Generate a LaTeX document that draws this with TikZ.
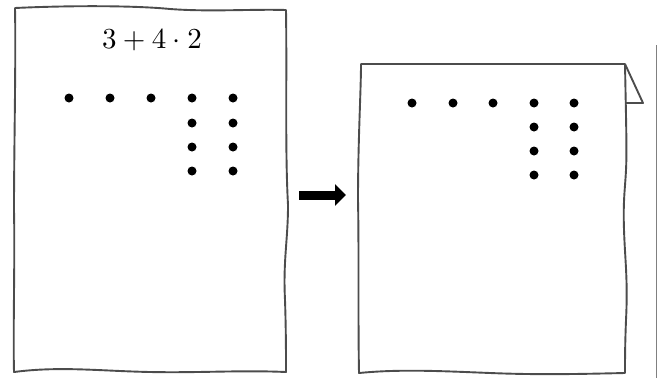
\documentclass[tikz,border=0pt]{standalone}
\usetikzlibrary{arrows.meta}
\begin{document}
\begin{tikzpicture}[x=1pt,y=-1pt,
  paper/.style={draw=black!70,line width=1.9pt,line join=round},
  dot/.style={circle,fill=black,inner sep=0pt,minimum size=9pt},
  rule/.style={draw=black!50,line width=0.8pt}]
\useasboundingbox (0,0) rectangle (660,378);

% first sheet with the expression
\draw[paper] (15,8) .. controls (80,5) and (140,6) .. (170,9)
  .. controls (210,12) and (250,9) .. (286,10)
  .. controls (287,80) and (285,150) .. (288,205)
  .. controls (288,240) and (283,260) .. (285,300)
  .. controls (286,330) and (286,355) .. (286,372)
  .. controls (240,370) and (200,373) .. (150,372)
  .. controls (100,371) and (60,366) .. (14,372)
  .. controls (13,330) and (15,260) .. (14,210)
  .. controls (14,150) and (16,60) .. (15,8) -- cycle;
\node[inner sep=0pt,scale=2.9] (expr) at (152,40) {$3+4\cdot 2$};

% dots on the first sheet
\foreach \x [count=\i] in {69,110,151,192,233}
  \node[dot] (a\i) at (\x,98) {};
\foreach \x [count=\i] in {192,233}
  \foreach \y [count=\j] in {123,147,171}
    \node[dot] (a\i-\j) at (\x,\y) {};

% arrow between the sheets
\coordinate (from) at (299,195);
\coordinate (to) at (346,195);
\draw[line width=9pt,-{Triangle[length=11pt,width=21pt]}] (from) -- (to);

% second sheet with a folded corner
\draw[paper] (361,64) -- (625,64)
  .. controls (626,120) and (627,150) .. (626,170)
  .. controls (625,190) and (623,200) .. (624,230)
  .. controls (625,260) and (628,280) .. (626,320)
  .. controls (625,345) and (625,360) .. (625,373)
  .. controls (580,374) and (540,375) .. (490,373)
  .. controls (440,371) and (400,369) .. (359,373)
  .. controls (358,320) and (359,250) .. (358,200)
  .. controls (358,140) and (361,90) .. (361,64) -- cycle;
\draw[paper] (625,64) -- (643,103) -- (625,103);

% dots on the second sheet
\foreach \x [count=\i] in {412,453,493,534,574}
  \node[dot] (b\i) at (\x,103) {};
\foreach \x [count=\i] in {534,574}
  \foreach \y [count=\j] in {127,151,175}
    \node[dot] (b\i-\j) at (\x,\y) {};

% thin rule at the right margin
\coordinate (r1) at (656,45);
\coordinate (r2) at (656,378);
\draw[rule] (r1) -- (r2);
\end{tikzpicture}
\end{document}
